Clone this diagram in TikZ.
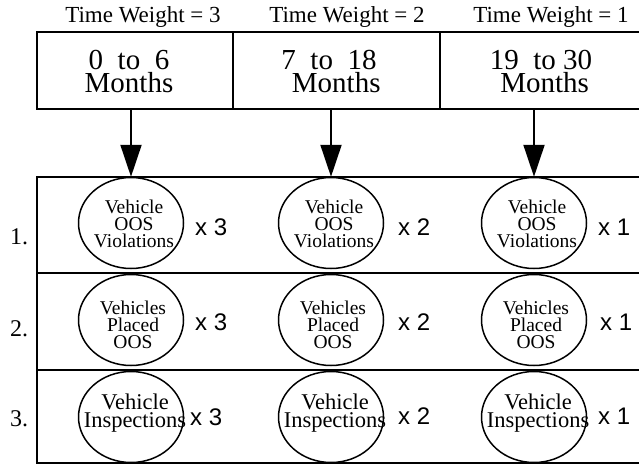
\documentclass[tikz,border=0pt]{standalone}
\usepackage{fontspec}
\setmainfont{Liberation Serif}
\setsansfont{Liberation Sans}
\usetikzlibrary{arrows.meta,shapes.geometric}

\begin{document}
\begin{tikzpicture}[x=1pt,y=-1pt,
  cell/.style={draw,line width=2pt,inner sep=0pt,rectangle},
  oval/.style={draw,ellipse,line width=1.5pt,inner sep=0pt,
    minimum width=105pt,minimum height=91pt},
  hdr/.style={anchor=base,inner sep=0pt,font=\fontsize{23}{23}\selectfont},
  mon/.style={align=center,inner sep=0pt,font=\fontsize{29}{23}\selectfont},
  small/.style={align=center,inner sep=0pt,font=\fontsize{19.5}{17}\selectfont},
  big/.style={align=center,inner sep=0pt,font=\fontsize{22.5}{18}\selectfont},
  times/.style={anchor=base west,inner sep=0pt,font=\sffamily\fontsize{24}{24}\selectfont},
  num/.style={anchor=base west,inner sep=0pt,font=\fontsize{24}{24}\selectfont},
  arr/.style={line width=2pt,-{Triangle[length=32pt,width=21pt]}}]
\clip (0,0) rectangle (639,466);

% column headings
\node[hdr] (w1) at (143,22) {Time Weight = 3};
\node[hdr] (w2) at (347,22) {Time Weight = 2};
\node[hdr] (w3) at (551,22) {Time Weight = 1};

% period cells
\node[cell,minimum width=196pt,minimum height=77pt] (c1) at (135,70.5) {};
\node[cell,minimum width=207pt,minimum height=77pt] (c2) at (336.5,70.5) {};
\node[cell,minimum width=205pt,minimum height=77pt] (c3) at (542.5,70.5) {};
\node[mon] (p1) at (129,71) {0\ \ to\ \ 6\\Months};
\node[mon] (p2) at (329,71) {7\ \ to\ \ 18\\\ \ Months};
\node[mon] (p3) at (541,71) {19\ \ to\ 30\\\ Months};

% factor rows
\node[cell,minimum width=608pt,minimum height=96pt] (r1) at (341,225) {};
\node[cell,minimum width=608pt,minimum height=97pt] (r2) at (341,321.5) {};
\node[cell,minimum width=608pt,minimum height=93pt] (r3) at (341,416.5) {};

\node[num] (n1) at (10,244) {1.};
\node[num] (n2) at (10,336) {2.};
\node[num] (n3) at (10,426) {3.};

% factor ovals
\foreach \c/\x in {1/131,2/331,3/534} {
  \node[oval] (e1\c) at (\x,223) {};
  \node[oval] (e2\c) at (\x,320) {};
  \node[oval] (e3\c) at (\x,417) {};
  \node[small] (t1\c) at (\x+3,224) {Vehicle\\OOS\\Violations};
  \node[small] (t2\c) at (\x+2,325) {Vehicles\\Placed\\OOS};
  \node[big] (t3\c) at (\x+4,413) {Vehicle\\Inspections};
}

% weights
\node[times] (x11) at (195,235) {x 3};
\node[times] (x21) at (195,330) {x 3};
\node[times] (x31) at (190,425) {x 3};
\node[times] (x12) at (398,235) {x 2};
\node[times] (x22) at (398,330) {x 2};
\node[times] (x32) at (398,424) {x 2};
\node[times] (x13) at (598,235) {x 1};
\node[times] (x23) at (600,330) {x 1};
\node[times] (x33) at (598,424) {x 1};

% period to factor arrows
\foreach \c in {1,2,3}
  \draw[arr] (c\c.south -| e1\c.north) -- (e1\c.north);
\end{tikzpicture}
\end{document}
